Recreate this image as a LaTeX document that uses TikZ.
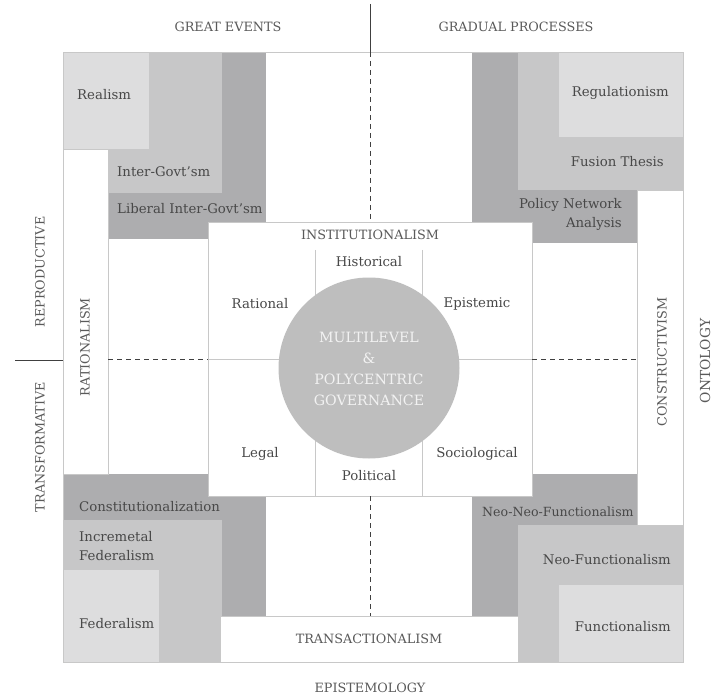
\documentclass[tikz,border=0pt]{standalone}
\usepackage{fontspec}
\setmainfont{DejaVu Serif}
\usetikzlibrary{positioning}
\definecolor{lightfill}{RGB}{221,221,222}
\definecolor{midfill}{RGB}{199,199,200}
\definecolor{darkfill}{RGB}{173,173,175}
\definecolor{discfill}{RGB}{190,190,190}
\definecolor{inkgray}{RGB}{72,72,72}
\definecolor{capsgray}{RGB}{90,90,90}
\definecolor{rulegray}{RGB}{200,200,200}

\begin{document}
\begin{tikzpicture}[x=1pt,y=-1pt,
    every node/.style={text=inkgray,font=\fontsize{13.3}{19}\selectfont},
    caps/.style={text=capsgray,font=\fontsize{12.8}{15}\selectfont},
    whitebox/.style={draw=rulegray,fill=white,line width=0.8pt,inner sep=0pt},
    axis/.style={draw=black!75,line width=0.9pt},
    midline/.style={axis,dash pattern=on 5pt off 4pt},
    inner/.style={draw=rulegray,line width=0.8pt}]
    \useasboundingbox (0,0) rectangle (713,698);

    \fill[darkfill] (108,52) rectangle (266,239);
    \fill[midfill] (108,52) rectangle (222,193);
    \fill[lightfill] (63,52) rectangle (149,149);

    \fill[darkfill] (472,52) rectangle (637,243);
    \fill[midfill] (518,52) rectangle (683,190);
    \fill[lightfill] (559,52) rectangle (683,137);

    \fill[darkfill] (63,474) rectangle (266,616);
    \fill[midfill] (63,520) rectangle (222,662);
    \fill[lightfill] (63,570) rectangle (159,662);

    \fill[darkfill] (472,474) rectangle (637,616);
    \fill[midfill] (518,525) rectangle (683,662);
    \fill[lightfill] (559,585) rectangle (683,662);

    \node[whitebox,minimum width=45pt,minimum height=325pt] (ratio) at (85.5,311.5) {};
    \node[whitebox,minimum width=46pt,minimum height=335pt] (cons) at (660,357.5) {};
    \draw[rulegray,line width=0.8pt] (63,52) rectangle (683,662);
    \node[whitebox,minimum width=298pt,minimum height=46pt] (trans) at (369,639) {};
    \node[whitebox,minimum width=324pt,minimum height=274pt] (inst) at (370,359) {};

    \coordinate (ge) at (370,4);
    \coordinate (frametop) at (370,52);
    \coordinate (sep) at (15,360);
    \draw[axis] (ge) -- (frametop);
    \draw[midline] (frametop) -- (inst.north);
    \draw[midline] (inst.south) -- (inst.south |- trans.north);
    \draw[axis] (sep) -- (sep -| ratio.west);
    \draw[midline] (inst.west -| ratio.east) -- (inst.west);
    \draw[midline] (inst.east) -- (inst.east -| cons.west);

    \coordinate (hl) at (315,250);
    \coordinate (hr) at (422,250);
    \draw[inner] (hl) -- (hl |- inst.south);
    \draw[inner] (hr) -- (hr |- inst.south);
    \draw[inner] (inst.west) -- (inst.east);
    \node[circle,fill=discfill,minimum size=181pt,inner sep=0pt] (core) at (369,368) {};
    \node[text=white!95!black,align=center,font=\fontsize{14.2}{21}\selectfont] (mlg) at (369,369)
        {MULTILEVEL\\\&\\POLYCENTRIC\\GOVERNANCE};

    \node[caps] (great) at (228,27) {GREAT EVENTS};
    \node[caps] (gradual) at (516,27) {GRADUAL PROCESSES};
    \node[caps,rotate=90] (repro) at (40,272) {REPRODUCTIVE};
    \node[caps,rotate=90] (transf) at (40,447) {TRANSFORMATIVE};
    \node[caps,rotate=90] (ratlab) at (85,347) {RATIONALISM};
    \node[caps,rotate=90] (conslab) at (662,362) {CONSTRUCTIVISM};
    \node[caps,rotate=90,font=\fontsize{13.8}{15}\selectfont] (onto) at (705,361) {ONTOLOGY};
    \node[caps] (episte) at (370,688) {EPISTEMOLOGY};
    \node[caps] (translab) at (369,639) {TRANSACTIONALISM};
    \node[caps] (instlab) at (370,235) {INSTITUTIONALISM};

    \node (hist) at (369,262) {Historical};
    \node (rat) at (260,304) {Rational};
    \node (epi) at (477,304) {Epistemic};
    \node (leg) at (260,454) {Legal};
    \node (pol) at (369,476) {Political};
    \node (soc) at (477,454) {Sociological};

    \node[anchor=west,inner sep=0pt] (real) at (77,95) {Realism};
    \node[anchor=west,inner sep=0pt] (igov) at (117,172) {Inter-Govt'sm};
    \node[anchor=west,inner sep=0pt] (ligov) at (117,209) {Liberal Inter-Govt'sm};
    \node[anchor=east,inner sep=0pt] (regu) at (669,93) {Regulationism};
    \node[anchor=east,inner sep=0pt] (fus) at (664,162) {Fusion Thesis};
    \node[anchor=east,inner sep=0pt,align=right] (pna) at (622,214) {Policy Network\\Analysis};
    \node[anchor=west,inner sep=0pt] (const) at (79,507) {Constitutionalization};
    \node[anchor=west,inner sep=0pt,align=left] (incr) at (79,546) {Incremetal\\Federalism};
    \node[anchor=west,inner sep=0pt] (fed) at (79,624) {Federalism};
    \node[anchor=west,inner sep=0pt,font=\fontsize{12.6}{19}\selectfont] (nnf) at (482,512) {Neo-Neo-Functionalism};
    \node[anchor=east,inner sep=0pt] (nf) at (671,560) {Neo-Functionalism};
    \node[anchor=east,inner sep=0pt] (func) at (671,627) {Functionalism};
\end{tikzpicture}
\end{document}
